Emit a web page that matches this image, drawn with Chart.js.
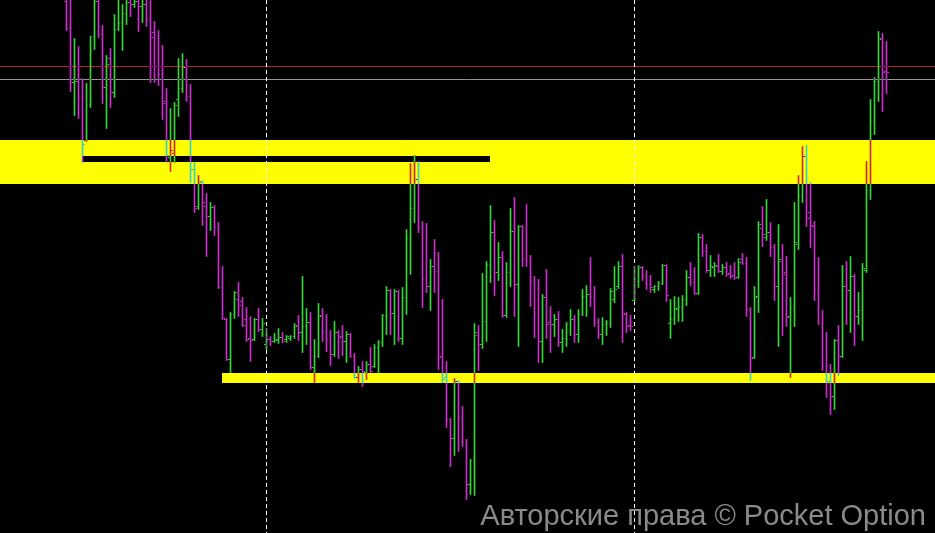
<!DOCTYPE html>
<html><head><meta charset="utf-8">
<script src="https://cdn.jsdelivr.net/npm/chart.js@4.4.1/dist/chart.umd.min.js"></script>
<style>html,body{margin:0;padding:0;background:#000;overflow:hidden}#wrap{width:935px;height:533px;position:relative}</style>
</head><body><div id="wrap"><canvas id="c"></canvas></div>
<script>
// OHLC values per bar (price units)
const opens=[598,571,517,518,502,459,494,563,598,565,512,541,507,570,576,586,597,595,598,593,595,580,567,561,525,498,442,446,500,511,532,503,430,393,418,393,383,392,372,312,280,240,285,300,298,280,261,260,280,270,255,260,258,259,262,260,261,263,274,267,273,277,232,243,284,267,260,245,267,263,258,265,243,222,230,227,235,233,252,257,284,309,286,308,261,302,361,391,420,372,320,313,333,328,243,222,180,161,218,182,158,115,139,264,255,278,335,367,327,342,284,327,368,315,373,340,338,318,285,258,302,277,275,280,257,261,275,280,265,285,303,305,303,277,265,275,277,300,313,333,285,274,299,318,332,323,315,310,313,316,334,276,280,290,292,300,322,317,306,362,348,329,332,333,328,332,326,324,322,340,336,290,242,303,371,362,367,352,313,338,327,283,292,355,403,443,387,373,310,276,233,218,203,259,243,313,309,323,283,289,329,409,478,518,560,528];
const highs=[620,610,561,553,521,516,563,608,605,574,544,551,585,610,595,605,605,610,605,610,605,605,578,569,554,511,491,497,541,546,540,515,437,424,419,406,397,394,377,333,281,287,308,317,302,292,283,281,291,281,271,263,266,271,267,264,264,276,284,323,291,287,260,296,291,285,269,278,269,274,268,266,246,233,238,238,252,255,259,285,313,310,310,309,312,370,436,444,438,378,376,340,360,347,300,238,181,221,219,193,160,140,276,274,326,338,394,379,357,348,337,391,402,374,374,395,344,323,320,305,330,293,285,288,270,277,290,284,290,310,314,342,313,281,282,279,311,333,338,345,287,284,333,334,333,329,324,314,318,335,335,300,303,302,304,329,337,332,366,365,355,344,337,345,335,337,334,337,341,346,342,292,313,378,393,400,377,355,375,355,343,302,397,424,453,454,417,378,342,289,267,235,260,274,334,338,343,325,307,336,438,500,522,568,566,558];
const lows=[569,508,484,481,437,458,492,550,562,496,471,492,502,569,549,575,583,592,568,577,573,517,517,514,480,437,428,437,483,507,498,417,387,390,374,343,369,364,311,280,239,227,281,283,273,258,238,259,268,263,250,254,257,256,257,257,259,261,259,247,255,230,217,242,258,248,234,243,241,244,237,242,221,217,213,220,227,232,227,253,265,265,255,258,255,285,325,377,367,292,307,289,307,230,217,172,133,144,148,153,100,105,104,229,251,258,317,304,319,282,282,313,283,253,333,333,293,262,237,237,261,247,263,253,247,253,264,257,257,284,283,293,273,261,255,264,272,297,311,257,267,269,298,312,319,310,307,307,309,315,298,261,275,278,278,294,314,305,305,343,327,323,323,327,325,323,321,320,321,335,283,219,241,287,353,359,343,299,253,264,273,222,273,350,397,373,352,299,275,229,202,185,190,224,242,275,267,254,275,259,327,400,465,498,488,506];
const closes=[571,517,518,502,455,494,563,598,565,512,535,507,570,576,586,597,595,598,593,595,580,562,561,525,496,444,449,494,511,532,503,430,391,417,397,383,392,372,312,281,240,285,307,294,274,260,259,280,270,276,260,258,260,262,258,263,263,273,267,273,277,232,243,283,267,260,245,267,262,258,265,243,222,230,228,235,228,252,257,284,309,286,308,261,302,361,391,420,372,320,313,333,328,242,220,180,161,218,182,158,115,139,267,255,278,335,367,327,342,284,327,368,315,373,340,338,318,285,258,302,275,275,280,257,261,275,280,265,285,303,305,303,277,265,275,277,308,310,333,286,273,273,318,332,323,315,312,313,316,334,304,280,291,292,300,322,317,306,362,348,329,333,334,328,332,325,323,322,337,336,290,241,302,375,365,367,352,313,340,325,282,292,357,403,443,381,374,310,276,233,218,203,259,243,313,309,323,283,289,331,409,478,518,561,527,527];

// horizontal levels and zones (price units), separators and zone starts (bar index)
const redLevel = 533;
const grayLevel = 520;
const upperZone = [415.5, 459.5];
const lowerZone = [216.5, 226.5];
const lowerZoneStartBar = 38.875;
const blackLine = [437.5, 443.5];
const blackLineBars = [3.875, 105.875];
const separatorBars = [50, 142];
const watermark = 'Авторские права © Pocket Option';

const upColor = 'rgb(50,215,50)';
const downColor = 'rgb(205,45,205)';
const barColors = opens.map((o, i) => closes[i] >= o ? upColor : downColor);

const rangeData = highs.map((h, i) => ({x: i, y: [lows[i], h]}));
const openData = opens.map((o, i) => ({x: i - 0.375, y: o}));
const closeData = closes.map((c, i) => ({x: i + 0.375, y: c}));

const overlay = {
  id: 'overlay',
  beforeDraw(chart) {
    const ctx = chart.ctx;
    ctx.save();
    ctx.fillStyle = '#000';
    ctx.fillRect(0, 0, chart.width, chart.height);
    ctx.restore();
  },
  beforeDatasetsDraw(chart) {
    const {ctx, chartArea: a, scales: {x, y}} = chart;
    ctx.save();
    ctx.fillStyle = '#ffff00';
    let t = y.getPixelForValue(upperZone[1]), b = y.getPixelForValue(upperZone[0]);
    ctx.fillRect(a.left, t, a.right - a.left, b - t);
    t = y.getPixelForValue(lowerZone[1]); b = y.getPixelForValue(lowerZone[0]);
    const xl = x.getPixelForValue(lowerZoneStartBar);
    ctx.fillRect(xl, t, a.right - xl, b - t);
    ctx.fillStyle = '#000';
    t = y.getPixelForValue(blackLine[1]); b = y.getPixelForValue(blackLine[0]);
    const x0 = x.getPixelForValue(blackLineBars[0]), x1 = x.getPixelForValue(blackLineBars[1]);
    ctx.fillRect(x0, t, x1 - x0, b - t);
    ctx.lineWidth = 1;
    ctx.strokeStyle = 'rgb(178,34,34)';
    let py = y.getPixelForValue(redLevel);
    ctx.beginPath(); ctx.moveTo(a.left, py); ctx.lineTo(a.right, py); ctx.stroke();
    ctx.strokeStyle = 'rgb(150,150,150)';
    py = y.getPixelForValue(grayLevel);
    ctx.beginPath(); ctx.moveTo(a.left, py); ctx.lineTo(a.right, py); ctx.stroke();
    ctx.strokeStyle = '#ffffff';
    ctx.setLineDash([4, 3]);
    separatorBars.forEach(s => {
      const px = x.getPixelForValue(s);
      ctx.beginPath(); ctx.moveTo(px, a.top); ctx.lineTo(px, a.bottom); ctx.stroke();
    });
    ctx.restore();
    ctx.save();
    ctx.globalCompositeOperation = 'difference';
  },
  afterDatasetsDraw(chart) {
    const ctx = chart.ctx;
    ctx.restore();
    ctx.save();
    ctx.font = '29px "Liberation Sans", Arial, sans-serif';
    ctx.fillStyle = '#8a8a8a';
    ctx.textAlign = 'right';
    ctx.textBaseline = 'alphabetic';
    ctx.fillText(watermark, chart.chartArea.right - 9, chart.chartArea.bottom - 8);
    ctx.restore();
  }
};

new Chart(document.getElementById('c'), {
  type: 'bar',
  data: {
    datasets: [
      {type: 'bar', data: rangeData, backgroundColor: barColors, borderWidth: 0, barThickness: 1, grouped: false},
      {type: 'line', data: openData, showLine: false, pointStyle: 'line', pointRadius: 1, pointHoverRadius: 0,
       pointBorderWidth: 1, pointBorderColor: barColors, borderColor: barColors},
      {type: 'line', data: closeData, showLine: false, pointStyle: 'line', pointRadius: 1, pointHoverRadius: 0,
       pointBorderWidth: 1, pointBorderColor: barColors, borderColor: barColors}
    ]
  },
  options: {
    responsive: true,
    maintainAspectRatio: false,
    animation: false,
    events: [],
    layout: {padding: 0, autoPadding: false},
    plugins: {legend: {display: false}, tooltip: {enabled: false}, title: {display: false}},
    scales: {
      x: {type: 'linear', min: -16.625, max: 217.125, offset: false, display: false, grid: {display: false, offset: false}},
      y: {type: 'linear', min: 66.5, max: 599.5, display: false, beginAtZero: false}
    }
  },
  plugins: [overlay]
});
</script></body></html>
